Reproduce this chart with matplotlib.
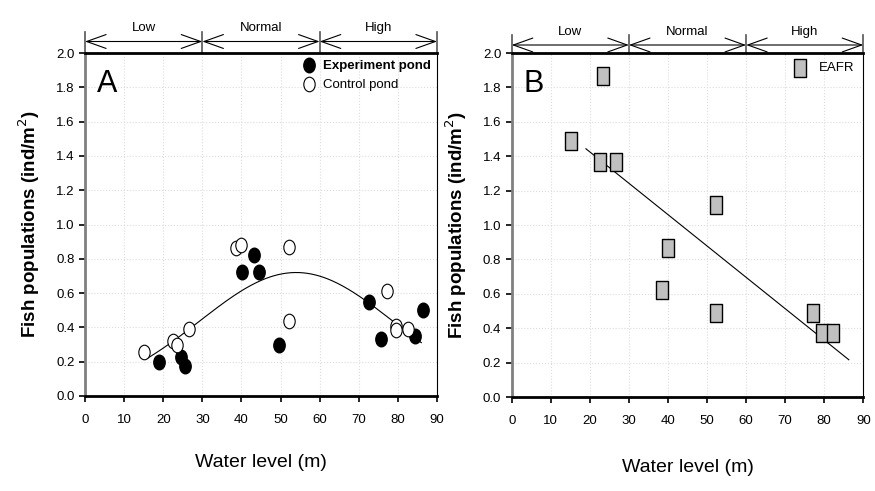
import numpy as np
import matplotlib
matplotlib.use('Agg')
import matplotlib.pyplot as plt
from matplotlib.path import Path
from matplotlib.transforms import Affine2D

plt.rcParams['font.family'] = ['Liberation Sans', 'DejaVu Sans']

# Panel A data
exp_x = [18.8, 24.6, 25.5, 40.2, 43.1, 44.5, 49.5, 72.7, 75.6, 84.5, 86.4]
exp_y = [0.20, 0.226, 0.175, 0.723, 0.822, 0.723, 0.30, 0.55, 0.33, 0.35, 0.50]
ctrl_x = [15.2, 22.6, 23.5, 26.7, 38.5, 40.0, 52.2, 52.2, 77.2, 79.5, 79.5, 82.5]
ctrl_y = [0.255, 0.32, 0.298, 0.39, 0.865, 0.88, 0.87, 0.437, 0.61, 0.408, 0.385, 0.39]
# fitted trend in panel A (gaussian shape)
fit_peak, fit_center, fit_sigma = 0.72, 54.0, 24.7
fit_a_range = (16, 86)

# Panel B data
eafr_x = [15.2, 22.5, 23.3, 26.6, 38.4, 40.0, 52.2, 52.2, 77.1, 79.4, 82.3]
eafr_y = [1.49, 1.364, 1.864, 1.364, 0.62, 0.867, 1.114, 0.49, 0.49, 0.37, 0.37]
fit_b_range = (19, 86.3)

zones = ['Low', 'Normal', 'High']
zone_edges = [0, 30, 60, 90]

ellipse = Path.unit_circle().transformed(Affine2D().scale(0.78, 1.0))
rect = Path([(-0.68, -1), (0.68, -1), (0.68, 1), (-0.68, 1), (-0.68, -1)],
            [Path.MOVETO, Path.LINETO, Path.LINETO, Path.LINETO, Path.CLOSEPOLY])

fig = plt.figure(figsize=(8.75, 4.91), dpi=100)
axA = fig.add_axes([85 / 875, 95 / 491, 352 / 875, 343 / 491])
axB = fig.add_axes([511.7 / 875, 94 / 491, 351.6 / 875, 344 / 491])


def style_axis(ax, bar_top, band_y, text_y, xpad):
    ax.set_xlim(0, 90)
    ax.set_ylim(0, 2.0)
    ax.set_xticks(np.arange(0, 91, 10))
    ax.set_yticks(np.arange(0, 2.01, 0.2))
    ax.set_yticklabels([f'{v:.1f}' for v in np.arange(0, 2.01, 0.2)])
    ax.tick_params(axis='both', direction='out', labelsize=9.5, width=1.2,
                   length=4, colors='black')
    ax.tick_params(axis='x', pad=9)
    ax.grid(True, color='#dddddd', linestyle=':', linewidth=0.8)
    ax.set_axisbelow(True)
    ax.spines['left'].set_color('#808080')
    ax.spines['left'].set_linewidth(2)
    ax.spines['bottom'].set_linewidth(2)
    ax.spines['top'].set_linewidth(2)
    ax.spines['right'].set_linewidth(0.8)
    ax.set_xlabel('Water level (m)', fontsize=14, labelpad=xpad)
    ax.set_ylabel('Fish populations (ind/m$^2$)', fontsize=13.5,
                  fontweight='bold', labelpad=10)
    # water level zones above the plot
    trans = ax.get_xaxis_transform()
    for e in zone_edges:
        ax.plot([e, e], [1.0, bar_top], color='#555555', lw=1.2,
                transform=trans, clip_on=False)
    for i, name in enumerate(zones):
        ax.annotate('', xy=(zone_edges[i], band_y), xytext=(zone_edges[i + 1], band_y),
                    xycoords=trans, textcoords=trans, annotation_clip=False,
                    arrowprops=dict(arrowstyle='<->,head_length=1.4,head_width=0.5',
                                    lw=0.8, color='black', shrinkA=0, shrinkB=0))
        ax.text((zone_edges[i] + zone_edges[i + 1]) / 2, text_y, name,
                transform=trans, ha='center', va='center', fontsize=9.5)


# Panel A
style_axis(axA, 1.0 + 21 / 343, 1.0 + 11.5 / 343, 1.0 + 25 / 343, 20)
axA.scatter(exp_x, exp_y, marker=ellipse, s=110, c='black', edgecolors='black',
            zorder=3, label='Experiment pond')
axA.scatter(ctrl_x, ctrl_y, marker=ellipse, s=110, facecolors='white',
            edgecolors='black', linewidths=0.8, zorder=3, label='Control pond')
xa = np.linspace(*fit_a_range, 200)
axA.plot(xa, fit_peak * np.exp(-(xa - fit_center) ** 2 / (2 * fit_sigma ** 2)),
         color='black', lw=0.8, zorder=2)
axA.text(3, 1.82, 'A', fontsize=22, va='center')
legA = axA.legend(loc='upper right', frameon=False, fontsize=9.5, handletextpad=0.4,
                  borderaxespad=0.1, labelspacing=0.5, handlelength=1.2)
legA.get_texts()[0].set_fontweight('bold')

# Panel B
style_axis(axB, 1.0 + 18 / 344, 1.0 + 8 / 344, 1.0 + 21 / 344, 23)
axB.scatter(eafr_x, eafr_y, marker=rect, s=160, c='#c0c0c0', edgecolors='black',
            linewidths=1.0, zorder=3, label='EAFR')
slope, intercept = np.polyfit(eafr_x, eafr_y, 1)
xb = np.linspace(*fit_b_range, 50)
axB.plot(xb, intercept + slope * xb, color='black', lw=0.8, zorder=2)
axB.text(3, 1.82, 'B', fontsize=22, va='center')
axB.legend(loc='upper right', frameon=False, fontsize=9.5, handletextpad=0.8,
           borderaxespad=0.3, handlelength=1.2)

fig.savefig('out.png', dpi=100)
